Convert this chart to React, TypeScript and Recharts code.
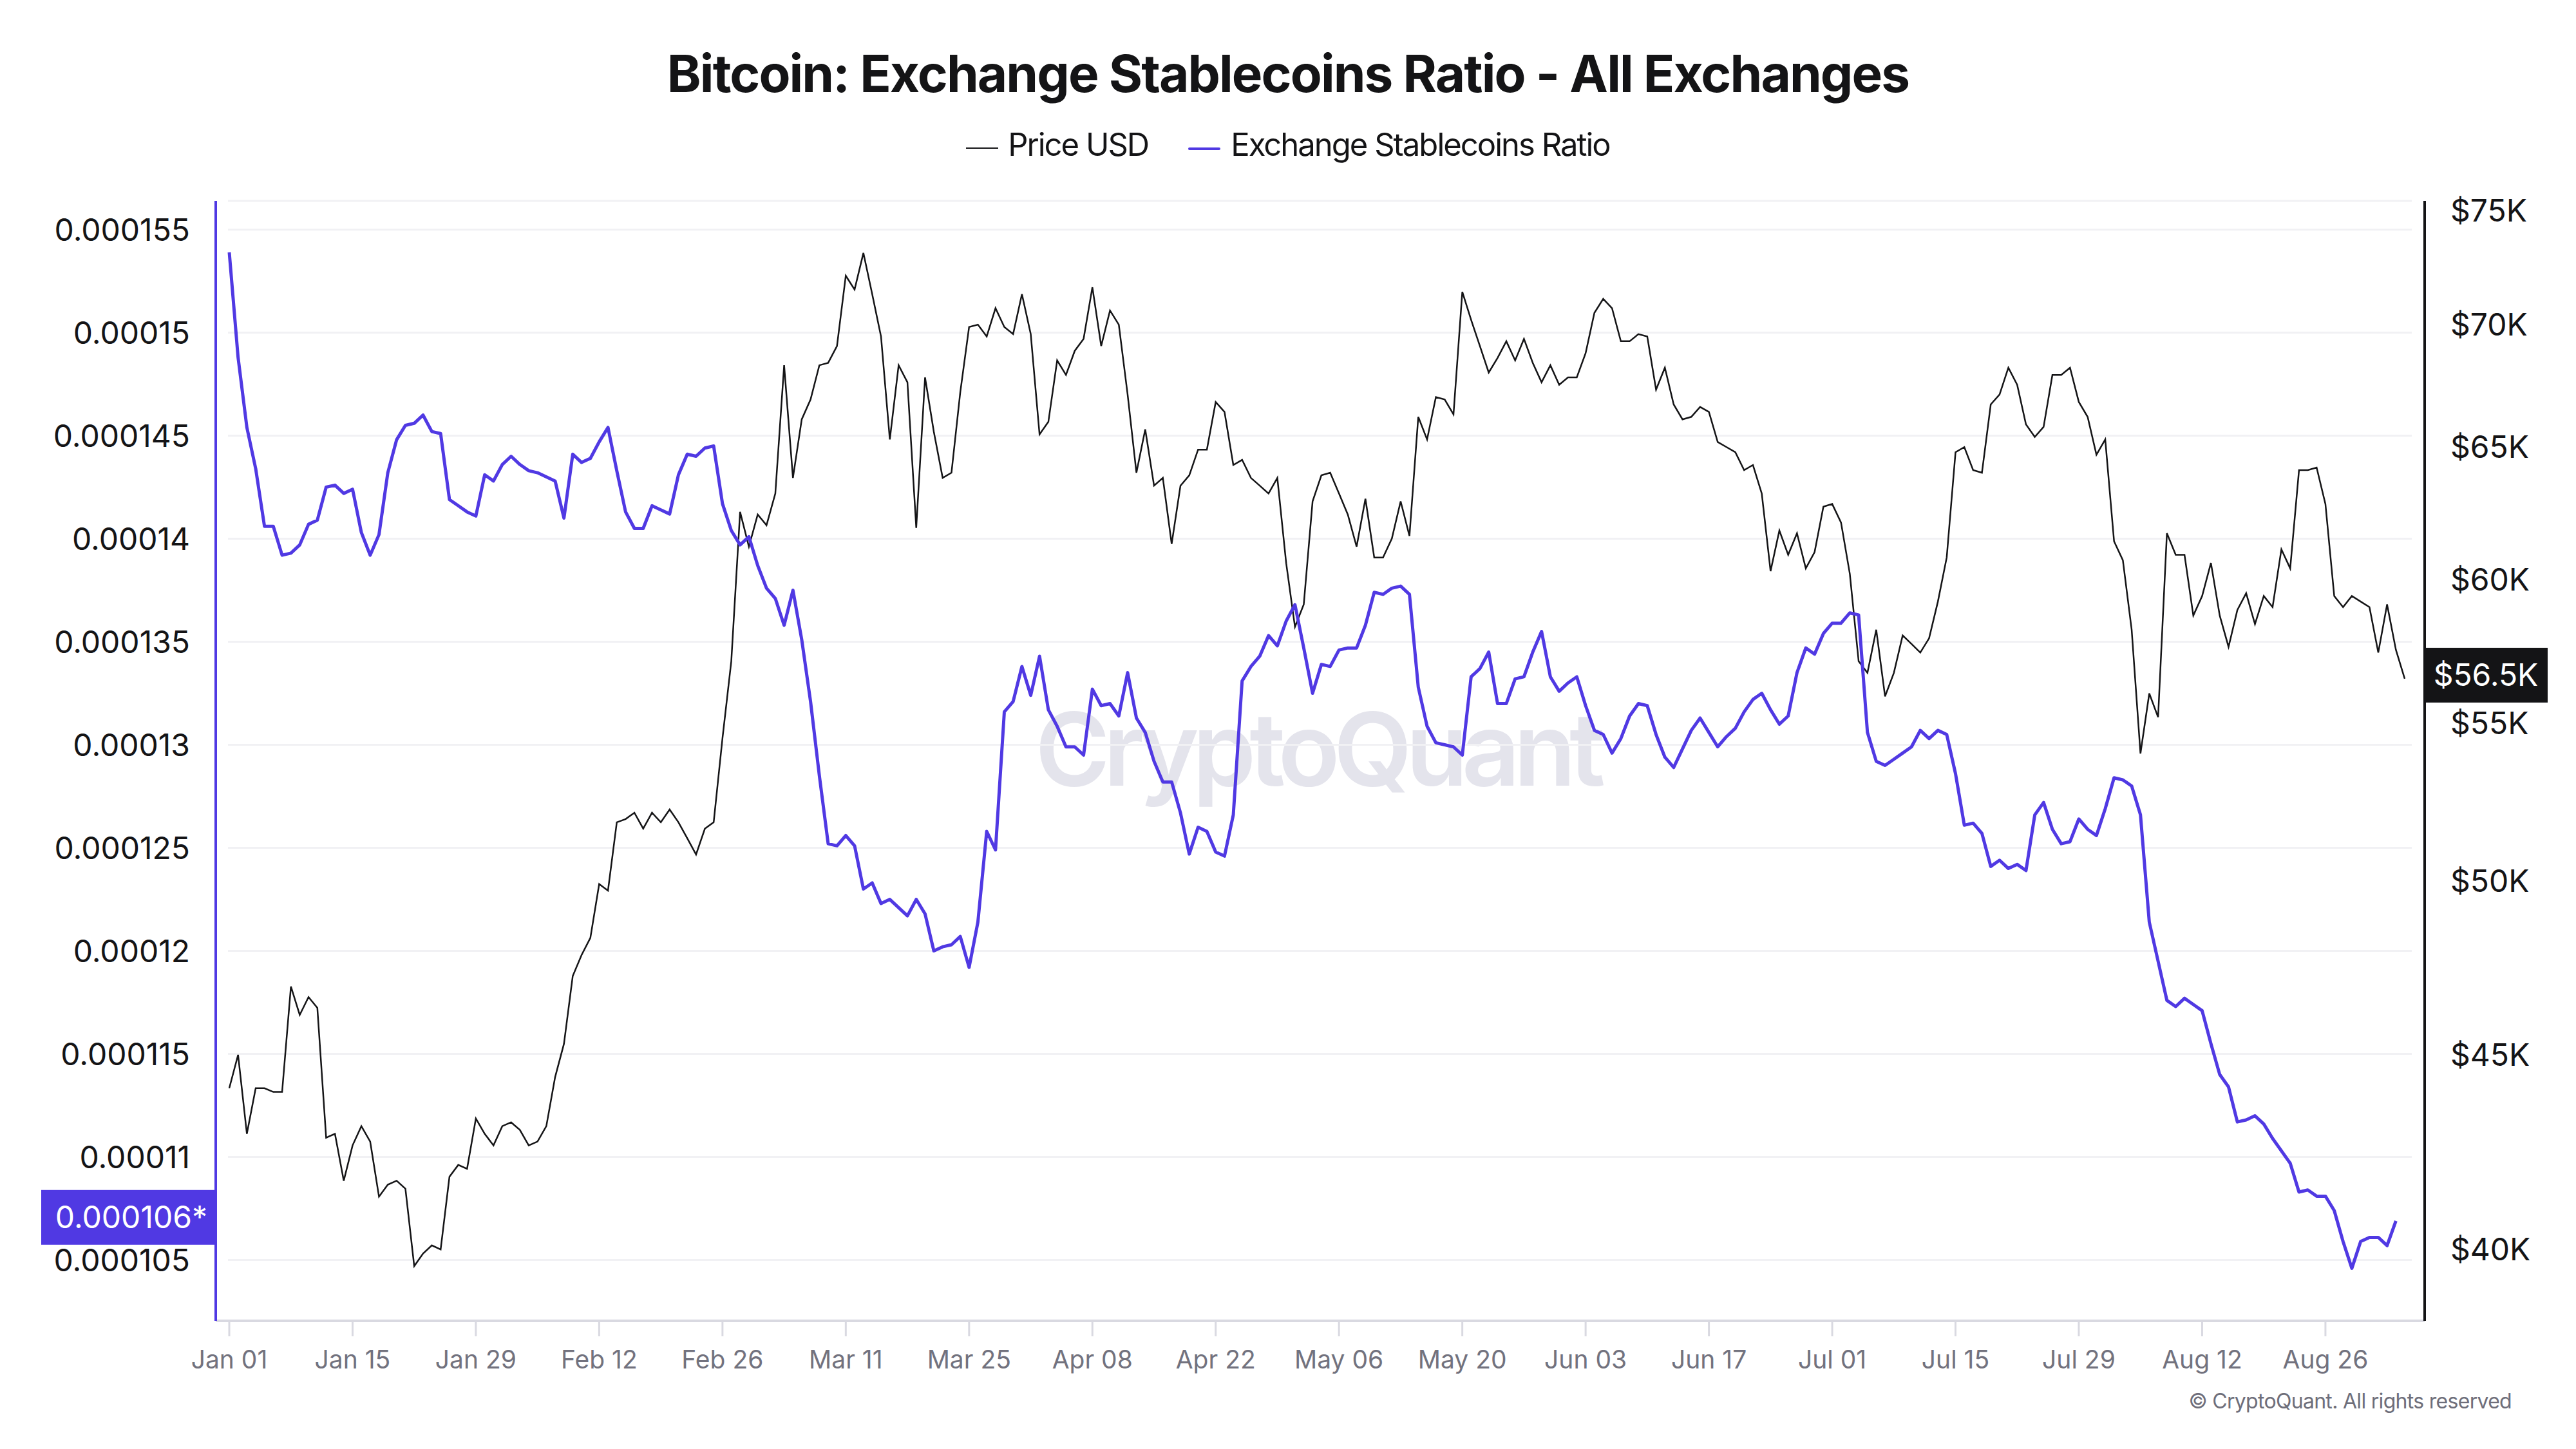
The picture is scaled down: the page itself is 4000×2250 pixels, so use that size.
import React from 'react';
import { CartesianGrid, Line, LineChart, ReferenceLine, XAxis, YAxis } from 'recharts';

const FONT = 'Inter, "Noto Sans", sans-serif';
const BLUE = '#5039e3';
const INK = '#141416';

// x axis: one point per day, Jan 01 .. Sep 04
const TICK_DAYS = [0, 14, 28, 42, 56, 70, 84, 98, 112, 126, 140, 154, 168, 182, 196, 210, 224, 238];
const TICK_LABELS = [
  'Jan 01', 'Jan 15', 'Jan 29', 'Feb 12', 'Feb 26', 'Mar 11', 'Mar 25', 'Apr 08', 'Apr 22',
  'May 06', 'May 20', 'Jun 03', 'Jun 17', 'Jul 01', 'Jul 15', 'Jul 29', 'Aug 12', 'Aug 26',
];

// left axis, ratio in units of 1e-6
const RATIO_TICKS = [105, 110, 115, 120, 125, 130, 135, 140, 145, 150, 155];
const RATIO_TICK_LABELS = [
  '0.000105', '0.00011', '0.000115', '0.00012', '0.000125', '0.00013',
  '0.000135', '0.00014', '0.000145', '0.00015', '0.000155',
];
const RATIO_TAG = '0.000106*';

// right axis, price in $K (log scale)
const PRICE_TICKS = [40, 45, 50, 55, 60, 65, 70, 75];

const PRICE_K = [
  44.1, 45.0, 42.9, 44.1, 44.1, 44.0, 44.0, 46.9, 46.1, 46.6,
  46.3, 42.8, 42.9, 41.7, 42.6, 43.1, 42.7, 41.3, 41.6, 41.7,
  41.5, 39.6, 39.9, 40.1, 40.0, 41.8, 42.1, 42.0, 43.3, 42.9,
  42.6, 43.1, 43.2, 43.0, 42.6, 42.7, 43.1, 44.4, 45.3, 47.2,
  47.8, 48.3, 49.9, 49.7, 51.8, 51.9, 52.1, 51.6, 52.1, 51.8,
  52.2, 51.8, 51.3, 50.8, 51.6, 51.8, 54.5, 57.1, 62.5, 61.2,
  62.4, 62.0, 63.2, 68.3, 63.8, 66.1, 66.9, 68.3, 68.4, 69.1,
  72.1, 71.5, 73.1, 71.3, 69.5, 65.3, 68.3, 67.6, 61.9, 67.8,
  65.6, 63.8, 64.0, 67.2, 69.9, 70.0, 69.5, 70.7, 69.9, 69.6,
  71.3, 69.6, 65.5, 66.0, 68.5, 67.9, 68.9, 69.4, 71.6, 69.1,
  70.6, 70.0, 67.1, 64.0, 65.7, 63.5, 63.8, 61.3, 63.5, 63.9,
  64.9, 64.9, 66.8, 66.4, 64.3, 64.5, 63.8, 63.5, 63.2, 63.8,
  60.6, 58.3, 59.1, 62.9, 63.9, 64.0, 63.2, 62.4, 61.2, 63.0,
  60.8, 60.8, 61.5, 62.9, 61.6, 66.2, 65.3, 67.0, 66.9, 66.3,
  71.4, 70.2, 69.1, 68.0, 68.6, 69.3, 68.5, 69.4, 68.4, 67.6,
  68.3, 67.5, 67.8, 67.8, 68.8, 70.5, 71.1, 70.7, 69.3, 69.3,
  69.6, 69.5, 67.3, 68.2, 66.7, 66.1, 66.2, 66.6, 66.4, 65.2,
  65.0, 64.8, 64.1, 64.3, 63.2, 60.3, 61.8, 60.9, 61.7, 60.4,
  61.0, 62.7, 62.8, 62.1, 60.2, 57.1, 56.7, 58.2, 55.9, 56.7,
  58.0, 57.7, 57.4, 57.9, 59.2, 60.8, 64.8, 65.0, 64.1, 64.0,
  66.7, 67.1, 68.2, 67.5, 65.9, 65.4, 65.8, 67.9, 67.9, 68.2,
  66.8, 66.2, 64.7, 65.3, 61.4, 60.7, 58.2, 54.0, 56.0, 55.2,
  61.7, 60.9, 60.9, 58.7, 59.4, 60.6, 58.7, 57.6, 58.9, 59.5,
  58.4, 59.4, 59.0, 61.1, 60.4, 64.1, 64.1, 64.2, 62.8, 59.4,
  59.0, 59.4, 59.2, 59.0, 57.4, 59.1, 57.5, 56.5,
];

// ratio stops one day before price
const RATIO_E6 = [
  153.9, 148.8, 145.4, 143.4, 140.6, 140.6, 139.2, 139.3, 139.7, 140.7,
  140.9, 142.5, 142.6, 142.2, 142.4, 140.3, 139.2, 140.2, 143.2, 144.8,
  145.5, 145.6, 146.0, 145.2, 145.1, 141.9, 141.6, 141.3, 141.1, 143.1,
  142.8, 143.6, 144.0, 143.6, 143.3, 143.2, 143.0, 142.8, 141.0, 144.1,
  143.7, 143.9, 144.7, 145.4, 143.3, 141.3, 140.5, 140.5, 141.6, 141.4,
  141.2, 143.1, 144.1, 144.0, 144.4, 144.5, 141.7, 140.4, 139.7, 140.1,
  138.7, 137.6, 137.1, 135.8, 137.5, 135.1, 132.1, 128.5, 125.2, 125.1,
  125.6, 125.1, 123.0, 123.3, 122.3, 122.5, 122.1, 121.7, 122.5, 121.8,
  120.0, 120.2, 120.3, 120.7, 119.2, 121.4, 125.8, 124.9, 131.6, 132.1,
  133.8, 132.4, 134.3, 131.7, 130.9, 129.9, 129.9, 129.5, 132.7, 131.9,
  132.0, 131.4, 133.5, 131.3, 130.6, 129.2, 128.2, 128.2, 126.7, 124.7,
  126.0, 125.8, 124.8, 124.6, 126.6, 133.1, 133.8, 134.3, 135.3, 134.8,
  136.0, 136.8, 134.7, 132.5, 133.9, 133.8, 134.6, 134.7, 134.7, 135.8,
  137.4, 137.3, 137.6, 137.7, 137.3, 132.8, 130.9, 130.1, 130.0, 129.9,
  129.5, 133.3, 133.7, 134.5, 132.0, 132.0, 133.2, 133.3, 134.5, 135.5,
  133.3, 132.6, 133.0, 133.3, 131.9, 130.7, 130.5, 129.6, 130.3, 131.4,
  132.0, 131.9, 130.5, 129.4, 128.9, 129.8, 130.7, 131.3, 130.6, 129.9,
  130.4, 130.8, 131.6, 132.2, 132.5, 131.7, 131.0, 131.4, 133.5, 134.7,
  134.4, 135.4, 135.9, 135.9, 136.4, 136.3, 130.6, 129.2, 129.0, 129.3,
  129.6, 129.9, 130.7, 130.3, 130.7, 130.5, 128.6, 126.1, 126.2, 125.7,
  124.1, 124.4, 124.0, 124.2, 123.9, 126.6, 127.2, 125.9, 125.2, 125.3,
  126.4, 125.9, 125.6, 126.9, 128.4, 128.3, 128.0, 126.6, 121.4, 119.5,
  117.6, 117.3, 117.7, 117.4, 117.1, 115.5, 114.0, 113.4, 111.7, 111.8,
  112.0, 111.6, 110.9, 110.3, 109.7, 108.3, 108.4, 108.1, 108.1, 107.4,
  105.9, 104.6, 105.9, 106.1, 106.1, 105.7, 106.9,
];

const data = PRICE_K.map((price, day) => ({
  day,
  price,
  ratio: day < RATIO_E6.length ? RATIO_E6[day] : null,
}));

const lastPrice = PRICE_K[PRICE_K.length - 1];
const lastRatio = RATIO_E6[RATIO_E6.length - 1];

function RatioTag(props: any) {
  const vb = props.viewBox;
  if (!vb) return null;
  return (
    <g>
      <rect x={vb.x - 271} y={vb.y - 48} width={271} height={85} fill={BLUE} />
      <text x={vb.x - 13} y={vb.y - 6} dy="0.35em" textAnchor="end" fill="#fff" fontSize={48} fontFamily={FONT}>
        {RATIO_TAG}
      </text>
    </g>
  );
}

function PriceTag(props: any) {
  const vb = props.viewBox;
  if (!vb) return null;
  const x = vb.x + vb.width;
  return (
    <g>
      <rect x={x + 2} y={vb.y - 48} width={189} height={85} fill={INK} />
      <text x={x + 95} y={vb.y - 6} dy="0.35em" textAnchor="middle" fill="#fff" fontSize={48} fontFamily={FONT}>
        {`$${lastPrice.toFixed(1)}K`}
      </text>
    </g>
  );
}

export default function App() {
  return (
    <div
      style={{
        position: 'absolute', left: 0, top: 0, width: 4000, height: 2250,
        background: '#fff', overflow: 'hidden', fontFamily: FONT, color: INK,
      }}
    >
      <div
        style={{
          position: 'absolute', left: 1600, top: 1084, width: 890, textAlign: 'center',
          fontSize: 158, lineHeight: '158px', fontWeight: 600, letterSpacing: -10, color: '#e4e4ec',
        }}
      >
        CryptoQuant
      </div>

      <div
        style={{
          position: 'absolute', left: 0, top: 74, width: 4000, textAlign: 'center',
          fontSize: 80, lineHeight: '80px', fontWeight: 700, letterSpacing: -1.9,
        }}
      >
        Bitcoin: Exchange Stablecoins Ratio - All Exchanges
      </div>

      <div
        style={{
          position: 'absolute', left: 0, top: 200, width: 4000, display: 'flex',
          justifyContent: 'center', alignItems: 'center', fontSize: 49, lineHeight: '49px', letterSpacing: -2,
        }}
      >
        <span style={{ display: 'inline-block', width: 50, height: 2, background: INK, marginRight: 15, position: 'relative', top: 5 }} />
        <span>Price USD</span>
        <span style={{ display: 'inline-block', width: 50, height: 4, borderRadius: 2, background: BLUE, marginLeft: 62, marginRight: 16, position: 'relative', top: 6 }} />
        <span>Exchange Stablecoins Ratio</span>
      </div>

      <div style={{ position: 'absolute', left: 0, top: 0 }}>
        <LineChart width={4000} height={2250} data={data} margin={{ top: 312, right: 0, bottom: 79, left: 0 }}>
          <CartesianGrid yAxisId="left" vertical={false} stroke="#f1f1f4" strokeWidth={3} x={354} width={3391} />
          <XAxis
            dataKey="day"
            type="number"
            domain={[0, PRICE_K.length - 1]}
            ticks={TICK_DAYS}
            interval={0}
            tickFormatter={(v) => TICK_LABELS[TICK_DAYS.indexOf(v)]}
            padding={{ left: 21, right: 31 }}
            height={120}
            axisLine={{ stroke: '#d9d9e1', strokeWidth: 4 }}
            tickLine={{ stroke: '#d9d9e1', strokeWidth: 3 }}
            tickSize={24}
            tickMargin={22}
            tick={{ fill: '#72727e', fontSize: 39, fontFamily: FONT }}
          />
          <YAxis
            yAxisId="left"
            orientation="left"
            type="number"
            width={335}
            domain={[102.05, 156.39]}
            allowDataOverflow
            ticks={RATIO_TICKS}
            interval={0}
            tickFormatter={(v) => RATIO_TICK_LABELS[RATIO_TICKS.indexOf(v)]}
            axisLine={{ stroke: BLUE, strokeWidth: 4 }}
            tickLine={false}
            tickSize={0}
            tickMargin={40}
            tick={{ fill: INK, fontSize: 48, fontFamily: FONT }}
          />
          <YAxis
            yAxisId="right"
            orientation="right"
            type="number"
            scale="log"
            width={235}
            domain={[38.31, 75.44]}
            allowDataOverflow
            ticks={PRICE_TICKS}
            interval={0}
            tickFormatter={(v) => `$${v}K`}
            axisLine={{ stroke: INK, strokeWidth: 4 }}
            tickLine={false}
            tickSize={0}
            tickMargin={40}
            tick={{ fill: INK, fontSize: 48, fontFamily: FONT }}
          />
          <Line
            yAxisId="right"
            type="linear"
            dataKey="price"
            stroke={INK}
            strokeWidth={2.5}
            dot={false}
            activeDot={false}
            isAnimationActive={false}
          />
          <Line
            yAxisId="left"
            type="linear"
            dataKey="ratio"
            stroke={BLUE}
            strokeWidth={5}
            strokeLinejoin="round"
            dot={false}
            activeDot={false}
            isAnimationActive={false}
          />
          <ReferenceLine yAxisId="left" y={lastRatio} stroke="none" ifOverflow="visible" label={<RatioTag />} />
          <ReferenceLine yAxisId="right" y={lastPrice} stroke="none" ifOverflow="visible" label={<PriceTag />} />
        </LineChart>
      </div>

      <div
        style={{
          position: 'absolute', right: 100, top: 2160, fontSize: 32, lineHeight: '32px',
          letterSpacing: -0.7, color: '#6e6e7a',
        }}
      >
        © CryptoQuant. All rights reserved
      </div>
    </div>
  );
}
